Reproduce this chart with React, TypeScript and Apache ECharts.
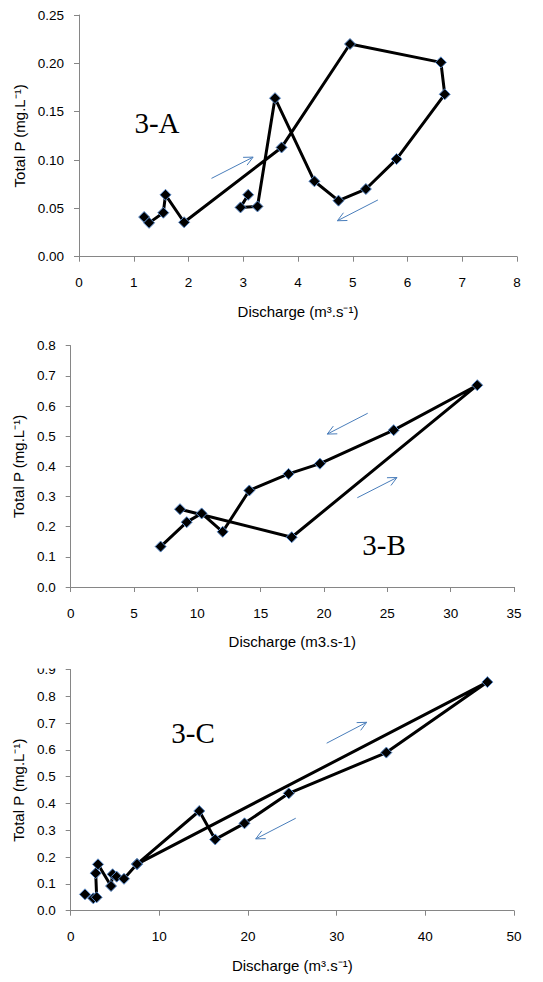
import React, { useEffect, useRef } from "react";
import * as echarts from "echarts";

// Panel 3-A
const aX = [1.19, 1.28, 1.54, 1.58, 1.92, 3.7, 4.95, 6.61, 6.68, 5.8, 5.24, 4.74, 4.3, 3.58, 3.26, 2.95, 3.09];
const aY = [0.041, 0.035, 0.0455, 0.064, 0.0356, 0.113, 0.22, 0.201, 0.168, 0.101, 0.07, 0.058, 0.078, 0.164, 0.052, 0.051, 0.064];
const aArrows = [
  [2.42, 0.081, 3.18, 0.103],
  [5.46, 0.0587, 4.72, 0.0372],
];

// Panel 3-B
const bX = [8.63, 17.45, 32.1, 25.5, 19.68, 17.2, 14.1, 12.0, 10.34, 9.16, 7.1];
const bY = [0.258, 0.165, 0.669, 0.52, 0.409, 0.375, 0.32, 0.183, 0.244, 0.215, 0.134];
const bArrows = [
  [23.45, 0.576, 20.26, 0.507],
  [22.63, 0.296, 25.76, 0.363],
];

// Panel 3-C
const cX = [1.61, 2.55, 2.93, 2.82, 3.08, 4.55, 4.73, 5.19, 6.01, 7.48, 47.0, 35.6, 24.6, 19.6, 16.3, 14.5, 7.48];
const cY = [0.061, 0.046, 0.05, 0.14, 0.173, 0.092, 0.136, 0.127, 0.119, 0.174, 0.853, 0.59, 0.438, 0.326, 0.266, 0.372, 0.174];
const cArrows = [
  [28.87, 0.625, 33.38, 0.703],
  [25.38, 0.345, 20.87, 0.268],
];

const panelLabels = ["3-A", "3-B", "3-C"];
const xNames = ["Discharge (m\u00b3.s\u207b\u00b9)", "Discharge (m3.s-1)", "Discharge (m\u00b3.s\u207b\u00b9)"];
const yName = "Total P (mg.L\u207b\u00b9)";
const xMax = [8, 35, 50];
const xInterval = [1, 5, 10];
const yMax = [0.25, 0.8, 0.9];
const yInterval = [0.05, 0.1, 0.1];
const yDecimals = [2, 1, 1];

const FONT = "Liberation Sans, Arial, sans-serif";
const AXIS_COLOR = "#868686";
const ARROW_COLOR = "#4a7ebb";

export default function App() {
  const ref = useRef<HTMLDivElement>(null);

  useEffect(() => {
    if (!ref.current) return;
    const chart = echarts.init(ref.current, undefined, { renderer: "svg" });

    const grids = [
      { left: 79, top: 15, width: 438, height: 241.7 },
      { left: 70.7, top: 345.7, width: 443.3, height: 241.3 },
      { left: 70.7, top: 669.5, width: 443.3, height: 241.2 },
    ];
    const yNameGaps = [52, 45, 45];

    const xAxes = grids.map((_, i) => ({
      type: "value",
      gridIndex: i,
      min: 0,
      max: xMax[i],
      interval: xInterval[i],
      name: xNames[i],
      nameLocation: "middle",
      nameGap: 47,
      nameTextStyle: { fontFamily: FONT, fontSize: 15, color: "#000" },
      axisLine: { show: true, lineStyle: { color: AXIS_COLOR, width: 1 } },
      axisTick: { show: true, length: 5, lineStyle: { color: AXIS_COLOR } },
      axisLabel: { fontFamily: FONT, fontSize: 13.5, color: "#000", margin: 19 },
      splitLine: { show: false },
    }));

    const yAxes = grids.map((_, i) => ({
      type: "value",
      gridIndex: i,
      min: 0,
      max: yMax[i],
      interval: yInterval[i],
      name: yName,
      nameLocation: "middle",
      nameGap: yNameGaps[i],
      nameRotate: 90,
      nameTextStyle: { fontFamily: FONT, fontSize: 15, color: "#000" },
      axisLine: { show: true, lineStyle: { color: AXIS_COLOR, width: 1 } },
      axisTick: { show: true, length: 5, lineStyle: { color: AXIS_COLOR } },
      axisLabel: {
        fontFamily: FONT,
        fontSize: 13.5,
        color: "#000",
        margin: 15,
        formatter: (v: number) => v.toFixed(yDecimals[i]),
      },
      splitLine: { show: false },
    }));

    const lineData = [
      aX.map((x, k) => [x, aY[k]]),
      bX.map((x, k) => [x, bY[k]]),
      cX.map((x, k) => [x, cY[k]]),
    ];
    const arrowData = [aArrows, bArrows, cArrows];

    const lineSeries = lineData.map((d, i) => ({
      type: "line",
      xAxisIndex: i,
      yAxisIndex: i,
      data: d,
      symbol: "diamond",
      symbolSize: 11,
      showAllSymbol: true,
      lineStyle: { color: "#000", width: 3 },
      itemStyle: { color: "#000", borderColor: "#5b8ccc", borderWidth: 1 },
      z: 3,
    }));

    const arrowSeries = arrowData.map((d, i) => ({
      type: "custom",
      xAxisIndex: i,
      yAxisIndex: i,
      data: d,
      encode: { x: [0, 2], y: [1, 3] },
      z: 2,
      renderItem: (params: any, api: any) => {
        const p1 = api.coord([api.value(0), api.value(1)]);
        const p2 = api.coord([api.value(2), api.value(3)]);
        const ang = Math.atan2(p2[1] - p1[1], p2[0] - p1[0]);
        const hl = 10;
        const spread = 0.45;
        const h1 = [p2[0] - hl * Math.cos(ang - spread), p2[1] - hl * Math.sin(ang - spread)];
        const h2 = [p2[0] - hl * Math.cos(ang + spread), p2[1] - hl * Math.sin(ang + spread)];
        const style = { stroke: ARROW_COLOR, lineWidth: 1, fill: "none" };
        return {
          type: "group",
          children: [
            { type: "polyline", shape: { points: [p1, p2] }, style },
            { type: "polyline", shape: { points: [h1, p2, h2] }, style },
          ],
        };
      },
    }));

    const labelPos = [
      [157, 123],
      [384, 545],
      [193, 733],
    ];

    const graphics: any[] = panelLabels.map((t, i) => ({
      type: "text",
      x: labelPos[i][0],
      y: labelPos[i][1],
      z: 50,
      style: {
        text: t,
        fontFamily: "Liberation Serif, Times New Roman, serif",
        fontSize: 29,
        fill: "#000",
        align: "center",
        verticalAlign: "middle",
      },
    }));
    graphics.push({
      type: "rect",
      x: 0,
      y: 652,
      z: 100,
      shape: { width: 543, height: 16.5 },
      style: { fill: "#fff" },
    });

    chart.setOption({
      animation: false,
      backgroundColor: "#fff",
      grid: grids,
      xAxis: xAxes,
      yAxis: yAxes,
      series: [...arrowSeries, ...lineSeries],
      graphic: graphics,
    });

    return () => chart.dispose();
  }, []);

  return (
    <div
      ref={ref}
      style={{ position: "absolute", left: 0, top: 0, width: 543, height: 982, background: "#fff" }}
    />
  );
}
